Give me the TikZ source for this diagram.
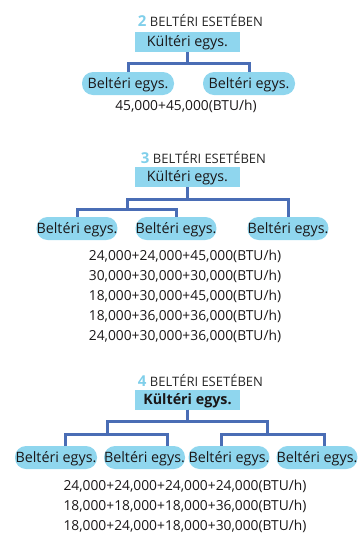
\documentclass[tikz,border=0pt]{standalone}
\usepackage{fontspec}
\setmainfont{Open Sans}
\usetikzlibrary{calc}

\definecolor{unitcyan}{HTML}{8FD6EE}
\definecolor{pipeblue}{HTML}{4A6DB5}
\definecolor{numcyan}{HTML}{80CFEA}
\definecolor{inktext}{HTML}{1A1718}

\newcommand{\unitno}[1]{{\fontsize{15}{16}\selectfont\bfseries\color{numcyan}#1}}

\begin{document}
\begin{tikzpicture}[
  x=1pt, y=-1pt,
  font=\fontsize{14.3}{17}\selectfont, text=inktext,
  title/.style={anchor=base, inner sep=0pt, font=\fontsize{13}{16}\selectfont, text=black!85},
  outdoor/.style={fill=unitcyan, minimum width=105pt, minimum height=20pt, inner sep=0pt, text height=9.7pt, text depth=0.3pt},
  indoor/.style={fill=unitcyan, rounded corners=11pt, minimum height=23pt, inner sep=0pt, text height=9.7pt, text depth=0.3pt},
  pipe/.style={draw=pipeblue, line width=3pt},
  btu/.style={align=center, anchor=north, inner sep=0pt, font=\fontsize{13.8}{20}\selectfont}
]
\useasboundingbox (0,0) rectangle (357,536);

% 2 beltéri
\node[title] (t2) at (200.5,26) {\unitno{2} BELTÉRI ESETÉBEN};
\node[outdoor] (k2) at (187.5,42) {Kültéri egys.};
\node[indoor, minimum width=92pt] (b21) at (128,83.5) {Beltéri egys.};
\node[indoor, minimum width=92pt] (b22) at (249,83.5) {Beltéri egys.};
\node[btu, anchor=base] (c2) at (186,110) {45,000+45,000(BTU/h)};
\draw[pipe] (k2.south) -- ++(0,11) -| (b21.north);
\draw[pipe] (k2.south) -- ++(0,11) -| (b22.north);

% 3 beltéri
\node[title] (t3) at (203.5,163.5) {\unitno{3} BELTÉRI ESETÉBEN};
\node[outdoor] (k3) at (187.5,177) {Kültéri egys.};
\node[indoor, minimum width=80pt] (b31) at (77,228.5) {Beltéri egys.};
\node[indoor, minimum width=80pt] (b32) at (176,228.5) {Beltéri egys.};
\node[indoor, minimum width=80pt] (b33) at (288,228.5) {Beltéri egys.};
\coordinate (j3) at (127,209);
\draw[pipe] (k3.south) -- ++(0,12) -| (b33.north);
\draw[pipe] (k3.south) -- ++(0,12) -| (j3);
\draw[pipe] (b31.north) |- (j3) -| (b32.north);
\node[btu] (c3) at (185,249.5) {24,000+24,000+45,000(BTU/h)\\30,000+30,000+30,000(BTU/h)\\18,000+30,000+45,000(BTU/h)\\18,000+36,000+36,000(BTU/h)\\24,000+30,000+36,000(BTU/h)};

% 4 beltéri
\node[title] (t4) at (200.5,386) {\unitno{4} BELTÉRI ESETÉBEN};
\node[outdoor, font=\fontsize{14.3}{17}\selectfont\bfseries] (k4) at (187.5,399.5) {Kültéri egys.};
\node[indoor, minimum width=82pt] (b41) at (56,457.5) {Beltéri egys.};
\node[indoor, minimum width=81pt] (b42) at (144.5,457.5) {Beltéri egys.};
\node[indoor, minimum width=80pt] (b43) at (229,457.5) {Beltéri egys.};
\node[indoor, minimum width=78pt] (b44) at (317,457.5) {Beltéri egys.};
\coordinate (j4l) at (107,434.5);
\coordinate (j4r) at (267,434.5);
\draw[pipe] (k4.south) -- ++(0,11.5) -| (j4l);
\draw[pipe] (k4.south) -- ++(0,11.5) -| (j4r);
\draw[pipe] ($(b41.north)+(9,0)$) |- (j4l) -| ($(b42.north)+(22.5,0)$);
\draw[pipe] ($(b43.north)+(-8,0)$) |- (j4r) -| ($(b44.north)+(7,0)$);
\node[btu] (c4) at (185,479.5) {24,000+24,000+24,000+24,000(BTU/h)\\18,000+18,000+18,000+36,000(BTU/h)\\18,000+24,000+18,000+30,000(BTU/h)};
\end{tikzpicture}
\end{document}
